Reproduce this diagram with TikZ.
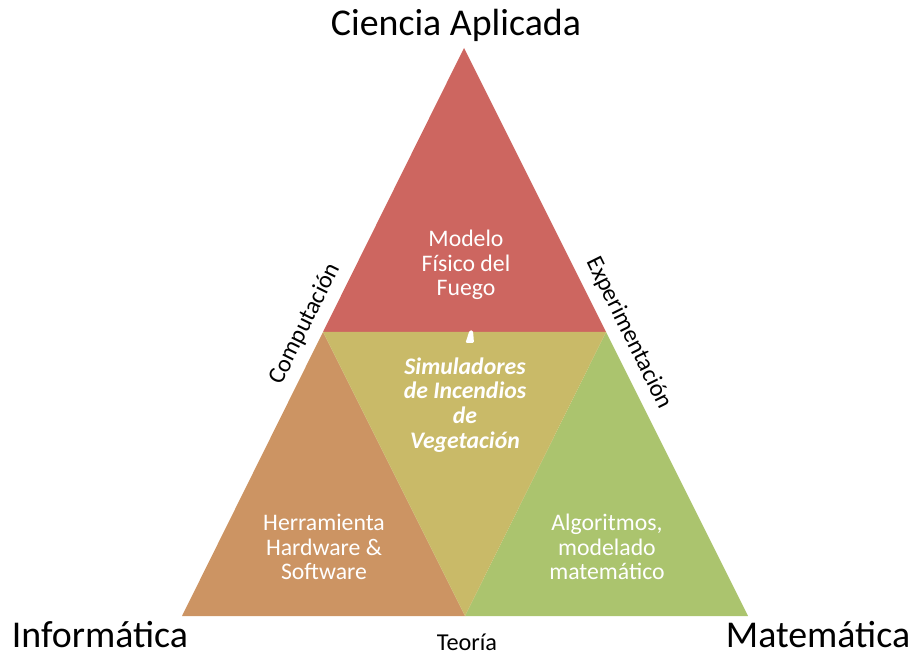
\documentclass[tikz,border=0pt]{standalone}
\usepackage{fontspec}
\setmainfont{Carlito}
\usepackage{tikz}
\usetikzlibrary{positioning}
\tikzset{every picture/.style={line width=0.75pt}}
\definecolor{rojo}{HTML}{CD6660}
\definecolor{naranja}{HTML}{CC9463}
\definecolor{oliva}{HTML}{C9BA68}
\definecolor{verde}{HTML}{ABC46E}
\tikzset{
  big/.style={font=\fontsize{28.4}{33}\selectfont, inner sep=0pt},
  side/.style={font=\fontsize{18.2}{20}\selectfont, inner sep=1pt},
  inside/.style={text=white, align=center, font=\fontsize{17.8}{18.5}\selectfont},
}

\begin{document}
\begin{tikzpicture}[x=0.75pt,y=-0.75pt]
\useasboundingbox (0,0) rectangle (914,655);
% corners and midpoints
\coordinate (a) at (464,48);
\coordinate (l) at (182,616);
\coordinate (r) at (748,616);
\coordinate (ml) at (323,332);
\coordinate (mr) at (606,332);
\coordinate (mb) at (465,616);

\fill[rojo] (a) -- (ml) -- (mr) -- cycle;
\fill[naranja] (ml) -- (l) -- (mb) -- cycle;
\fill[verde] (mr) -- (mb) -- (r) -- cycle;
\fill[oliva] (ml) -- (mr) -- (mb) -- cycle;
\fill[white, rounded corners=1pt] (469.5,330.5) -- (473,330.5) -- (474,343) -- (465.5,343) -- cycle;

\node[big, anchor=base] at (456,36) (ciencia) {Ciencia Aplicada};
\node[big, anchor=base] at (100,647) (info) {Informática};
\node[big, anchor=base] at (818,647) (mate) {Matemática};
\node[side, anchor=base] at (467,650) (teoria) {Teoría};
\node[side, rotate=63.6] at (305,324) (comp) {Computación};
\node[side, rotate=-63.6] at (629,333) (exper) {Experimentación};

\node[inside] at (466,265) (fisico) {Modelo\\Físico del\\Fuego};
\node[inside, font=\fontsize{17.8}{18.5}\selectfont\bfseries\itshape] at (465,405) (simul) {Simuladores\\de Incendios\\de\\Vegetación};
\node[inside] at (324,547) (herra) {Herramienta\\Hardware \&\\Software};
\node[inside] at (607,547) (algo) {Algoritmos,\\modelado\\matemático};
\end{tikzpicture}
\end{document}
